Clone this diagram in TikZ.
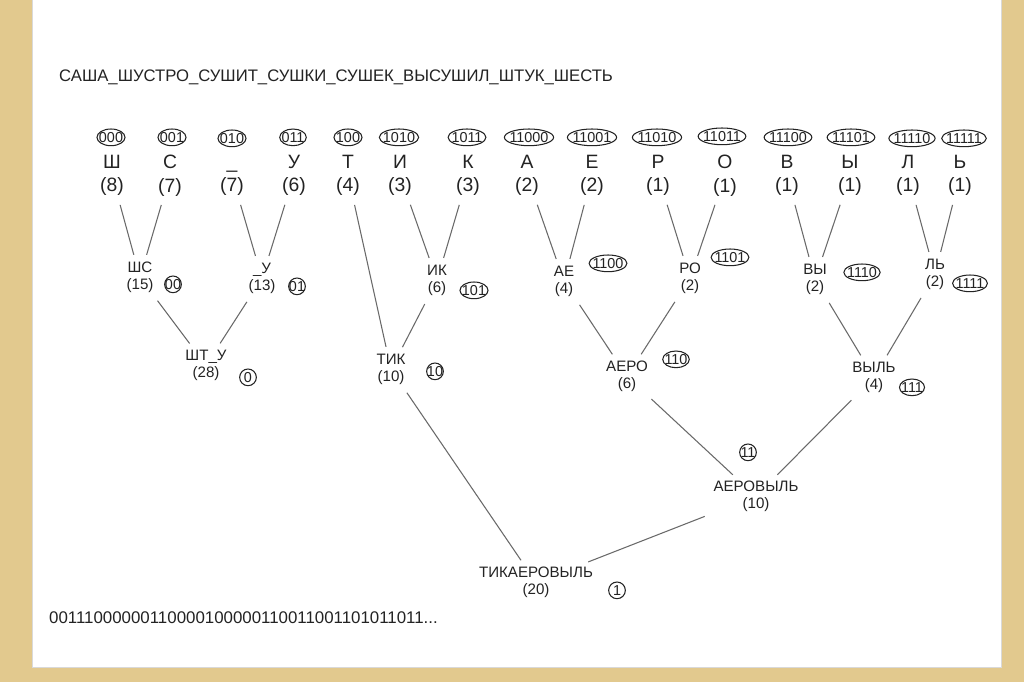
\documentclass[tikz,border=0pt]{standalone}
\usepackage{fontspec}
\setmainfont{Liberation Sans}
\usetikzlibrary{shapes.geometric}
\definecolor{frame}{RGB}{226,201,142}
\definecolor{ink}{RGB}{35,35,35}
\definecolor{edge}{RGB}{105,105,105}

\begin{document}
\begin{tikzpicture}[x=0.02cm,y=-0.02cm,
    leaf/.style={align=center,inner sep=2pt,text=ink,font=\fontsize{11pt}{13.6pt}\selectfont},
    inner/.style={align=center,inner sep=2pt,text=ink,font=\fontsize{8.6pt}{9.6pt}\selectfont},
    code/.style={draw=ink,semithick,ellipse,inner xsep=-1.2pt,inner ysep=0pt,minimum width=9.5pt,minimum height=9.5pt,text=ink,font=\fontsize{8.2pt}{8pt}\selectfont},
    link/.style={draw=edge,line width=0.6pt,shorten <=3pt,shorten >=2pt}]
        % frame
        \fill[frame] (0,0) rectangle (1024,682);
        \fill[white] (32,0) rectangle (1001,667);
        \draw[black!15] (32,0) -- (32,667) -- (1001,667) -- (1001,0);
        \useasboundingbox (0,0) rectangle (1024,682);
        \node[anchor=west,text=ink,font=\fontsize{9.5pt}{12pt}\selectfont] at (53,77) (msg) {САША\_ШУСТРО\_СУШИТ\_СУШКИ\_СУШЕК\_ВЫСУШИЛ\_ШТУК\_ШЕСТЬ};
        % leaves
        \node[leaf] at (112,175) (sh) {Ш\\(8)};
        \node[leaf] at (170,175) (s) {С\\(7)};
        \node[leaf] at (232,175) (us) {\vphantom{Ш}\_\\(7)};
        \node[leaf] at (294,175) (u) {У\\(6)};
        \node[leaf] at (348,175) (t) {Т\\(4)};
        \node[leaf] at (400,175) (i) {И\\(3)};
        \node[leaf] at (468,175) (k) {К\\(3)};
        \node[leaf] at (527,175) (a) {А\\(2)};
        \node[leaf] at (592,175) (e) {Е\\(2)};
        \node[leaf] at (658,175) (r) {Р\\(1)};
        \node[leaf] at (725,175) (o) {О\\(1)};
        \node[leaf] at (787,175) (v) {В\\(1)};
        \node[leaf] at (850,175) (y) {Ы\\(1)};
        \node[leaf] at (908,175) (l) {Л\\(1)};
        \node[leaf] at (960,175) (mz) {Ь\\(1)};
        \node[code] at (111,137) (c000) {000};
        \node[code] at (172,137) (c001) {001};
        \node[code] at (232,138) (c010) {010};
        \node[code] at (293,137) (c011) {011};
        \node[code] at (348,137) (c100) {100};
        \node[code] at (399,137) (c1010) {1010};
        \node[code] at (467,137) (c1011) {1011};
        \node[code] at (529,137) (c11000) {11000};
        \node[code] at (592,137) (c11001) {11001};
        \node[code] at (657,137) (c11010) {11010};
        \node[code] at (722,136) (c11011) {11011};
        \node[code] at (788,137) (c11100) {11100};
        \node[code] at (851,137) (c11101) {11101};
        \node[code] at (912,138) (c11110) {11110};
        \node[code] at (964,138) (c11111) {11111};
        % merged nodes
        \node[inner] at (140,277) (shs) {ШС\\(15)};
        \node[inner] at (262,278) (usu) {\_У\\(13)};
        \node[inner] at (437,280) (ik) {ИК\\(6)};
        \node[inner] at (564,281) (ae) {АЕ\\(4)};
        \node[inner] at (690,278) (ro) {РО\\(2)};
        \node[inner] at (815,279) (vy) {ВЫ\\(2)};
        \node[inner] at (935,274) (lmz) {ЛЬ\\(2)};
        \node[inner] at (206,365) (shtu) {ШТ\_У\\(28)};
        \node[inner] at (391,369) (tik) {ТИК\\(10)};
        \node[inner] at (627,376) (aero) {АЕРО\\(6)};
        \node[inner] at (874,377) (vylmz) {ВЫЛЬ\\(4)};
        \node[inner] at (756,496) (aerovylmz) {АЕРОВЫЛЬ\\(10)};
        \node[inner] at (536,582) (root) {ТИКАЕРОВЫЛЬ\\(20)};
        \node[code] at (173,284) (c00) {00};
        \node[code] at (297,286) (c01) {01};
        \node[code] at (474,290) (c101) {101};
        \node[code] at (608,263) (c1100) {1100};
        \node[code] at (730,257) (c1101) {1101};
        \node[code] at (862,272) (c1110) {1110};
        \node[code] at (970,283) (c1111) {1111};
        \node[code] at (248,377) (c0) {0};
        \node[code] at (435,371) (c10) {10};
        \node[code] at (676,359) (c110) {110};
        \node[code] at (912,387) (c111) {111};
        \node[code] at (748,452) (c11) {11};
        \node[code] at (617,590) (c1) {1};
        \node[anchor=west,text=ink,font=\fontsize{9.6pt}{11pt}\selectfont] at (43,617) (bits) {00111000000110000100000110011001101011011...};
        % edges
        \draw[link] (sh) -- (shs);
        \draw[link] (s) -- (shs);
        \draw[link] (us) -- (usu);
        \draw[link] (u) -- (usu);
        \draw[link] (i) -- (ik);
        \draw[link] (k) -- (ik);
        \draw[link] (a) -- (ae);
        \draw[link] (e) -- (ae);
        \draw[link] (r) -- (ro);
        \draw[link] (o) -- (ro);
        \draw[link] (v) -- (vy);
        \draw[link] (y) -- (vy);
        \draw[link] (l) -- (lmz);
        \draw[link] (mz) -- (lmz);
        \draw[link] (shs) -- (shtu);
        \draw[link] (usu) -- (shtu);
        \draw[link] (t) -- (tik);
        \draw[link] (ik) -- (tik);
        \draw[link] (ae) -- (aero);
        \draw[link] (ro) -- (aero);
        \draw[link] (vy) -- (vylmz);
        \draw[link] (lmz) -- (vylmz);
        \draw[link] (aero) -- (aerovylmz);
        \draw[link] (vylmz) -- (aerovylmz);
        \draw[link] (tik) -- (root);
        \draw[link] (aerovylmz) -- (root);
\end{tikzpicture}
\end{document}
